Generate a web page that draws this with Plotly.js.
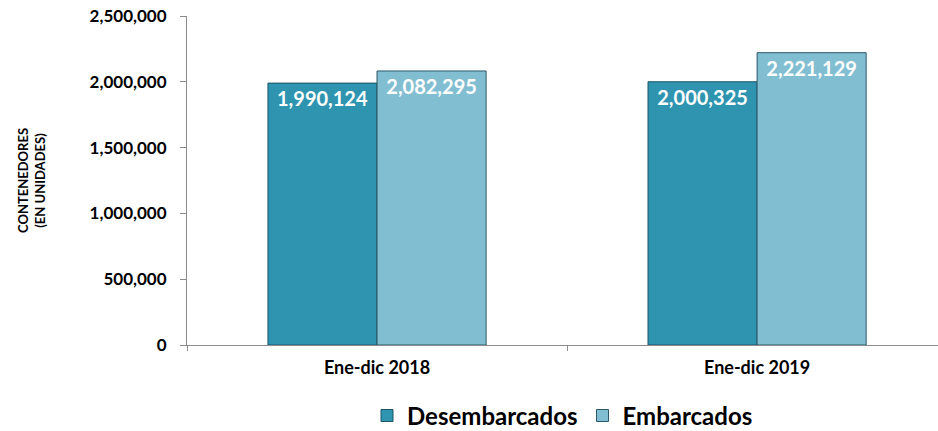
<!DOCTYPE html>
<html>
<head>
<meta charset="utf-8">
<script src="https://cdn.plot.ly/plotly-3.0.1.min.js"></script>
<style>html,body{margin:0;padding:0;background:#fff;}#chart{width:938px;height:431px;}</style>
</head>
<body>
<div id="chart"></div>
<script>
const categories = ["Ene-dic 2018", "Ene-dic 2019"];
const desembarcados = [1990124, 2000325];
const embarcados = [2082295, 2221129];
const seriesNames = ["Desembarcados", "Embarcados"];
const yTicks = [0, 500000, 1000000, 1500000, 2000000, 2500000];

const FONT = "Lato, Carlito, Calibri, 'Open Sans', sans-serif";
const fmt = v => v.toLocaleString('en-US');

const traces = [
  {
    type: 'bar', name: seriesNames[0], x: categories, y: desembarcados,
    text: desembarcados.map(fmt), textposition: 'inside', insidetextanchor: 'end',
    textfont: {family: FONT, size: 20, color: '#ffffff', weight: 'bold'},
    marker: {color: '#2e94b0', line: {color: '#1d5566', width: 1}},
    hoverinfo: 'skip'
  },
  {
    type: 'bar', name: seriesNames[1], x: categories, y: embarcados,
    text: embarcados.map(fmt), textposition: 'inside', insidetextanchor: 'end',
    textfont: {family: FONT, size: 20, color: '#ffffff', weight: 'bold'},
    marker: {color: '#82bed1', line: {color: '#2b5866', width: 1}},
    hoverinfo: 'skip'
  }
];

const layout = {
  width: 938, height: 431,
  margin: {l: 187, r: 0, t: 16, b: 86, autoexpand: false},
  paper_bgcolor: '#ffffff', plot_bgcolor: '#ffffff',
  font: {family: FONT, color: '#000000'},
  barmode: 'group', bargap: 0.426, bargroupgap: 0,
  showlegend: true,
  legend: {orientation: 'h', x: 0.5, xanchor: 'center', xref: 'paper',
           y: 0.035, yanchor: 'middle', yref: 'container',
           font: {family: FONT, size: 24, color: '#000', weight: 'bold'},
           traceorder: 'normal'},
  xaxis: {
    type: 'category', range: [-0.5, 1.476], automargin: false,
    showline: true, linecolor: '#8c8c8c', linewidth: 1,
    ticks: 'outside', tickson: 'boundaries', ticklen: 5, tickcolor: '#8c8c8c',
    tickfont: {family: FONT, size: 18, color: '#000', weight: 'bold'},
    ticklabelstandoff: 6,
    showgrid: false, zeroline: false
  },
  yaxis: {
    range: [0, 2500000], tickvals: yTicks, ticktext: yTicks.map(fmt), automargin: false,
    showline: true, linecolor: '#8c8c8c', linewidth: 1,
    ticks: 'outside', ticklen: 6, tickcolor: '#8c8c8c',
    tickfont: {family: FONT, size: 17, color: '#000', weight: 'bold'},
    ticklabelstandoff: 10,
    showgrid: false, zeroline: false,
    title: {text: 'CONTENEDORES<br>(EN UNIDADES)', standoff: 41,
            font: {family: FONT, size: 13, color: '#000', weight: 'bold'}}
  }
};

Plotly.newPlot('chart', traces, layout, {staticPlot: true, displayModeBar: false});
</script>
</body>
</html>
